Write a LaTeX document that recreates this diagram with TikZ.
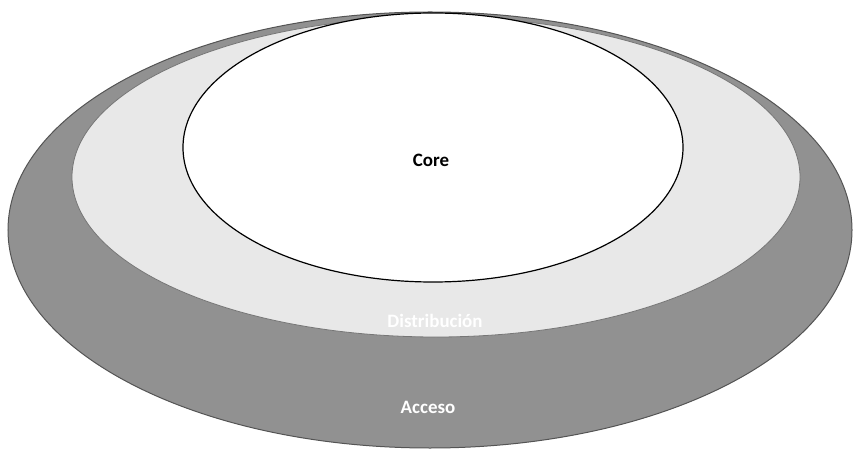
\documentclass[tikz,border=0pt]{standalone}
\usepackage{fontspec}
\setsansfont{Carlito}
\usetikzlibrary{shapes.geometric, positioning}
\definecolor{AccesoGris}{rgb}{0.57, 0.57, 0.57}
\definecolor{DistGris}{rgb}{0.91, 0.91, 0.91}
\definecolor{BordeGris}{rgb}{0.33, 0.33, 0.33}

\begin{document}
\begin{tikzpicture}[x=1bp, y=-1bp,
    font=\sffamily\bfseries\fontsize{19}{21}\selectfont,
    capa/.style={ellipse, inner sep=0pt, outer sep=0pt}]

\useasboundingbox (0,0) rectangle (856,450);

% capas
\node[capa, fill=AccesoGris, draw=BordeGris, line width=1bp,
    minimum width=844bp, minimum height=436bp] (acceso) at (430,230) {};
\node[capa, fill=DistGris, draw=BordeGris!80, line width=0.8bp,
    minimum width=728bp, minimum height=320bp] (distribucion) at (436,177) {};
\node[capa, fill=white, draw=black, line width=1.2bp,
    minimum width=500bp, minimum height=269bp] (core) at (433,147.5) {};

% etiquetas
\node (lcore) at (431,160) {Core};
\node[text=white] (ldistribucion) at (435,321) {Distribución};
\node[text=white] (lacceso) at (428,407) {Acceso};

\end{tikzpicture}
\end{document}
